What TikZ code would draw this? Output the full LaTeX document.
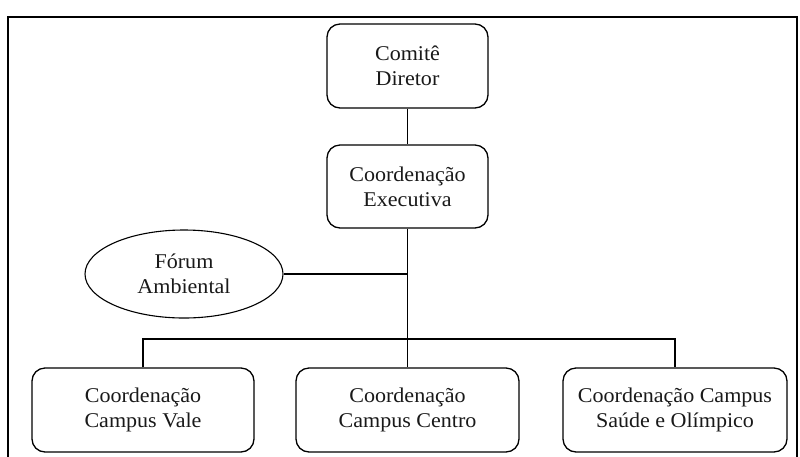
\documentclass[tikz,border=0pt]{standalone}
\usepackage{fontspec}
\setmainfont{Liberation Serif}[FakeStretch=1.05]
\usetikzlibrary{shapes.geometric}
\begin{document}
\begin{tikzpicture}[x=1pt,y=-1pt,
  every node/.style={font=\fontsize{21}{25}\selectfont, align=center, inner sep=0pt, text=black!90},
  orgbox/.style={draw, line width=1.3pt, rounded corners=13pt, minimum height=84pt},
  orgoval/.style={draw, line width=1.1pt, ellipse, minimum width=198pt, minimum height=88pt},
  link/.style={line width=1.4pt}]
\useasboundingbox (0,0) rectangle (800,456);
\draw[line width=1.8pt] (8,17) rectangle (797,480);
\node[orgbox, minimum width=161pt] (comite) at (407.5,66) {Comitê\\Diretor};
\node[orgbox, minimum width=161pt, minimum height=83pt] (exec) at (407.5,186.5) {Coordenação\\Executiva};
\node[orgoval] (forum) at (184,274) {Fórum\\Ambiental};
\node[orgbox, minimum width=222pt] (vale) at (143,410) {Coordenação\\Campus Vale};
\node[orgbox, minimum width=223pt] (centro) at (407.5,410) {Coordenação\\Campus Centro};
\node[orgbox, minimum width=224pt] (saude) at (675,410) {Coordenação Campus\\Saúde e Olímpico};
\coordinate (bar) at (407.5,339);
\draw[link] (comite.south) -- (exec.north);
\draw[line width=1.8pt] (exec.south) -- (centro.north);
\draw[link] (forum.east) -- (forum.east -| exec.south);
\draw[link] (vale.north) |- (bar) -| (saude.north);
\end{tikzpicture}
\end{document}
